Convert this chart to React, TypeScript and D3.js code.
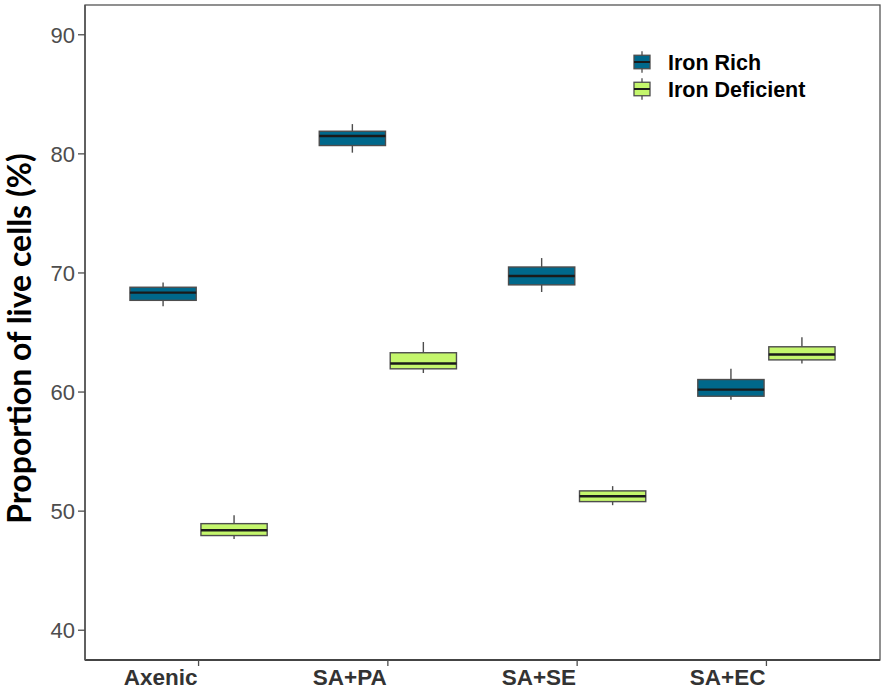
import React from "react";
import * as d3 from "d3";

const categories = ["Axenic", "SA+PA", "SA+SE", "SA+EC"];
const seriesNames = ["Iron Rich", "Iron Deficient"];
const seriesColors = ["#00688B", "#C4F66C"];
const yTicks = [40, 50, 60, 70, 80, 90];

// Iron Rich box stats
const richMin = [67.2, 80.1, 68.4, 59.35];
const richQ1 = [67.7, 80.7, 69.0, 59.65];
const richMedian = [68.35, 81.5, 69.75, 60.2];
const richQ3 = [68.8, 81.9, 70.5, 61.05];
const richMax = [69.2, 82.5, 71.25, 61.95];

// Iron Deficient box stats
const defMin = [47.65, 61.6, 50.5, 62.4];
const defQ1 = [47.95, 61.95, 50.8, 62.7];
const defMedian = [48.4, 62.4, 51.25, 63.15];
const defQ3 = [48.95, 63.3, 51.7, 63.8];
const defMax = [49.65, 64.2, 52.1, 64.6];

const W = 886;
const H = 690;
const panel = { left: 85, right: 880, top: 5, bottom: 660 };

export default function App() {
  const unit = (panel.right - panel.left) / 4.2;
  const x = d3
    .scalePoint<string>()
    .domain(categories)
    .range([panel.left + 0.6 * unit, panel.right - 0.6 * unit]);
  const y = d3.scaleLinear().domain([37.5, 92.5]).range([panel.bottom, panel.top]);

  const dodge = 0.1875 * unit;
  const boxW = 0.35 * unit;

  const series = [
    { min: richMin, q1: richQ1, med: richMedian, q3: richQ3, max: richMax },
    { min: defMin, q1: defQ1, med: defMedian, q3: defQ3, max: defMax },
  ];

  const boxes: React.ReactNode[] = [];
  series.forEach((s, si) => {
    categories.forEach((c, ci) => {
      const cx = (x(c) as number) + (si === 0 ? -dodge : dodge);
      boxes.push(
        <g key={`${si}-${ci}`}>
          <line x1={cx} x2={cx} y1={y(s.max[ci])} y2={y(s.q3[ci])} stroke="#4d4d4d" strokeWidth={1.4} />
          <line x1={cx} x2={cx} y1={y(s.q1[ci])} y2={y(s.min[ci])} stroke="#4d4d4d" strokeWidth={1.4} />
          <rect
            x={cx - boxW / 2}
            y={y(s.q3[ci])}
            width={boxW}
            height={y(s.q1[ci]) - y(s.q3[ci])}
            fill={seriesColors[si]}
            stroke="#4d4d4d"
            strokeWidth={1.4}
          />
          <line
            x1={cx - boxW / 2}
            x2={cx + boxW / 2}
            y1={y(s.med[ci])}
            y2={y(s.med[ci])}
            stroke="#1a1a1a"
            strokeWidth={2.4}
          />
        </g>
      );
    });
  });

  const legendX = 634;
  const legendKeyW = 16;
  const legendRows = [62, 89];
  const keyH = 27;

  return (
    <svg
      width={W}
      height={H}
      style={{ position: "absolute", left: 0, top: 0, background: "#fff" }}
      fontFamily="'Liberation Sans', Arial, sans-serif"
    >
      <rect x={0} y={0} width={W} height={H} fill="#fff" />
      {/* panel border */}
      <rect
        x={panel.left}
        y={panel.top}
        width={panel.right - panel.left}
        height={panel.bottom - panel.top}
        fill="none"
        stroke="#555"
        strokeWidth={1.3}
      />
      <line x1={panel.left} x2={panel.right} y1={panel.bottom} y2={panel.bottom} stroke="#444" strokeWidth={2} />
      <line x1={panel.left} x2={panel.left} y1={panel.top} y2={panel.bottom} stroke="#555" strokeWidth={1.6} />

      {/* y ticks */}
      {yTicks.map((t) => (
        <g key={t}>
          <line x1={panel.left - 7} x2={panel.left} y1={y(t)} y2={y(t)} stroke="#4d4d4d" strokeWidth={1.3} />
          <text x={panel.left - 10} y={y(t)} dy="0.36em" textAnchor="end" fontSize={22} fill="#4d4d4d">
            {t}
          </text>
        </g>
      ))}

      {/* x ticks */}
      {categories.map((c) => (
        <g key={c}>
          <line x1={x(c)} x2={x(c)} y1={panel.bottom} y2={panel.bottom + 6} stroke="#4d4d4d" strokeWidth={1.3} />
          <text x={(x(c) as number) - 1} y={685} textAnchor="end" fontSize={22.5} fontWeight="bold" fill="#333">
            {c}
          </text>
        </g>
      ))}

      {/* y title */}
      <text
        transform={`translate(31, 338.5) rotate(-90)`}
        textAnchor="middle"
        fontFamily="Lato, 'Open Sans', sans-serif"
        fontWeight="bold"
        fontSize={32}
        fill="#000"
      >
        Proportion of live cells (%)
      </text>

      {boxes}

      {/* legend */}
      {seriesNames.map((name, i) => {
        const cy = legendRows[i];
        const cx = legendX + legendKeyW / 2;
        return (
          <g key={name}>
            <line x1={cx} x2={cx} y1={cy - keyH * 0.4} y2={cy + keyH * 0.4} stroke="#4d4d4d" strokeWidth={1.3} />
            <rect
              x={legendX}
              y={cy - keyH * 0.25}
              width={legendKeyW}
              height={keyH * 0.5}
              fill={seriesColors[i]}
              stroke="#4d4d4d"
              strokeWidth={1.3}
            />
            <line x1={legendX} x2={legendX + legendKeyW} y1={cy} y2={cy} stroke="#1a1a1a" strokeWidth={2} />
            <text x={668} y={cy} dy="0.36em" fontSize={21.5} fontWeight="bold" fill="#000">
              {name}
            </text>
          </g>
        );
      })}
    </svg>
  );
}
